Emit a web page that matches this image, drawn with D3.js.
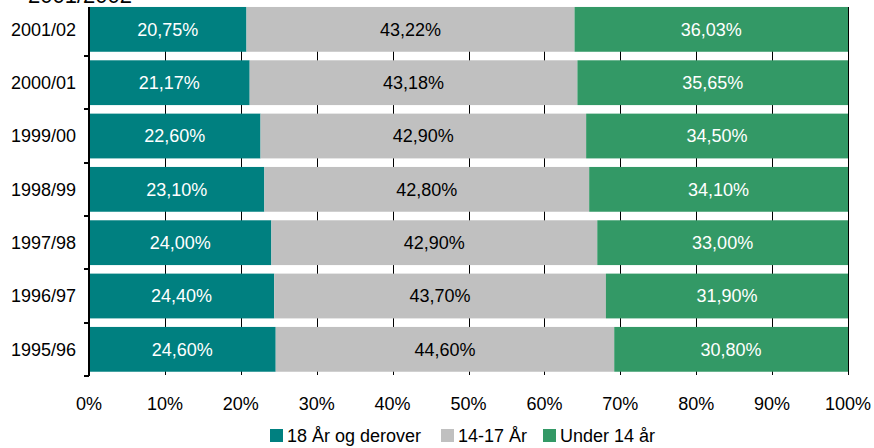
<!DOCTYPE html>
<html>
<head>
<meta charset="utf-8">
<script src="https://cdn.jsdelivr.net/npm/d3@7"></script>
<style>
body { margin: 0; background: #fff; }
text { font-family: "Liberation Sans", Arial, sans-serif; }
</style>
</head>
<body>
<script>
var years = ["2001/02", "2000/01", "1999/00", "1998/99", "1997/98", "1996/97", "1995/96"];
var adults = [20.75, 21.17, 22.60, 23.10, 24.00, 24.40, 24.60];
var teens = [43.22, 43.18, 42.90, 42.80, 42.90, 43.70, 44.60];
var kids = [36.03, 35.65, 34.50, 34.10, 33.00, 31.90, 30.80];
var seriesNames = ["18 År og derover", "14-17 År", "Under 14 år"];
var colors = ["#008080", "#c0c0c0", "#339966"];
var labelColors = ["#fff", "#000", "#fff"];
var xTicks = [0, 0.1, 0.2, 0.3, 0.4, 0.5, 0.6, 0.7, 0.8, 0.9, 1];

var width = 874, height = 448;

var svg = d3.select("body").append("svg")
	.attr("width", width)
	.attr("height", height);

var x = d3.scaleLinear()
	.domain([0, 1])
	.range([89, 848]);

var y = d3.scaleBand()
	.domain(years)
	.range([2.7, 376])
	.paddingInner(0.16)
	.paddingOuter(0.08);

var table = years.map(function(yr, i) {
	return {year: yr, s0: adults[i], s1: teens[i], s2: kids[i]};
});

var stack = d3.stack()
	.keys(["s0", "s1", "s2"])
	.offset(d3.stackOffsetExpand);
var layers = stack(table);

// title, cut off by the top edge as in the original
svg.append("text")
	.attr("x", 28)
	.attr("y", 3)
	.attr("font-size", 22)
	.text("2001/2002");

// gridlines behind bars
svg.append("g").selectAll("line")
	.data(xTicks.slice(1))
	.enter().append("line")
	.attr("x1", d => Math.round(x(d)) + 0.5)
	.attr("x2", d => Math.round(x(d)) + 0.5)
	.attr("y1", 7)
	.attr("y2", 375)
	.attr("stroke", "#000")
	.attr("stroke-width", 1);

var groups = svg.selectAll("g.layer")
	.data(layers)
	.enter().append("g")
	.attr("class", "layer")
	.attr("fill", (d, i) => colors[i]);

groups.selectAll("rect")
	.data(d => d)
	.enter().append("rect")
	.attr("x", d => x(d[0]))
	.attr("y", d => y(d.data.year))
	.attr("width", d => x(d[1]) - x(d[0]))
	.attr("height", y.bandwidth());

var fmt = function(v) { return v.toFixed(2).replace(".", ",") + "%"; };

layers.forEach(function(layer, li) {
	svg.append("g").selectAll("text")
		.data(layer)
		.enter().append("text")
		.attr("x", d => (x(d[0]) + x(d[1])) / 2)
		.attr("y", d => y(d.data.year) + y.bandwidth() / 2)
		.attr("dy", "0.35em")
		.attr("text-anchor", "middle")
		.attr("font-size", 18)
		.attr("fill", labelColors[li])
		.text(d => fmt(d.data[layer.key]));
});

// category axis
svg.append("line")
	.attr("x1", 89).attr("x2", 89)
	.attr("y1", 7).attr("y2", 376)
	.attr("stroke", "#000")
	.attr("stroke-width", 2);

var bounds = years.map(d => y(d) + y.bandwidth() + y.step() * 0.08);
svg.append("g").selectAll("line")
	.data(bounds)
	.enter().append("line")
	.attr("x1", 84).attr("x2", 89)
	.attr("y1", d => Math.round(d))
	.attr("y2", d => Math.round(d))
	.attr("stroke", "#000")
	.attr("stroke-width", 2);

svg.append("g").selectAll("text")
	.data(years)
	.enter().append("text")
	.attr("x", 76)
	.attr("y", d => y(d) + y.bandwidth() / 2)
	.attr("dy", "0.35em")
	.attr("text-anchor", "end")
	.attr("font-size", 18)
	.text(d => d);

// percent axis labels
svg.append("g").selectAll("text")
	.data(xTicks)
	.enter().append("text")
	.attr("x", d => x(d))
	.attr("y", 404)
	.attr("dy", "0.35em")
	.attr("text-anchor", "middle")
	.attr("font-size", 18)
	.text(d3.format(".0%"));

// legend
var legendX = [270, 441, 543];
var legend = svg.append("g").selectAll("g")
	.data(seriesNames)
	.enter().append("g")
	.attr("transform", (d, i) => "translate(" + legendX[i] + ",429)");
legend.append("rect")
	.attr("width", 13)
	.attr("height", 13)
	.attr("fill", (d, i) => colors[i]);
legend.append("text")
	.attr("x", 17)
	.attr("y", 13)
	.attr("font-size", 18)
	.text(d => d);
</script>
</body>
</html>
